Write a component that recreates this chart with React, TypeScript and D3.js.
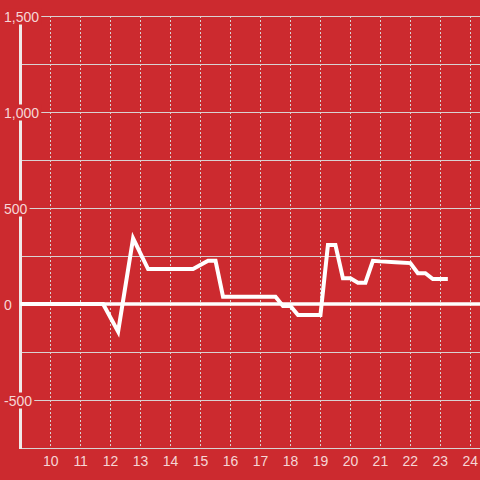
import React, { useEffect, useRef } from "react";
import * as d3 from "d3";

const hours = [9.0, 11.75, 12.25, 12.75, 13.25, 14.75, 15.25, 15.5, 15.75, 17.5, 17.75, 18.0, 18.25, 19.0, 19.25, 19.5, 19.75, 20.0, 20.25, 20.5, 20.75, 21.0, 21.5, 22.0, 22.25, 22.5, 22.75, 23.25];
const values = [0, 0, -144, 342, 182, 182, 225, 225, 38, 38, -10, -10, -57, -57, 307, 307, 134, 134, 111, 111, 225, 222, 218, 213, 160, 160, 130, 130];
const xTicks = [10, 11, 12, 13, 14, 15, 16, 17, 18, 19, 20, 21, 22, 23, 24];
const yLabelTicks = [1500, 1000, 500, 0, -500];
const yLabels = ["1,500", "1,000", "500", "0", "-500"];
const yGridTicks = [1500, 1250, 1000, 750, 500, 250, 0, -250, -500];

const W = 480;
const H = 480;
const BG = "#cc2a2f";
const LABEL = "#f6d6d6";
const GRID = "#d9d2d2";

export default function App() {
  const ref = useRef<SVGSVGElement>(null);
  useEffect(() => {
    const svg = d3.select(ref.current);
    svg.selectAll("*").remove();
    const x = d3.scaleLinear().domain([9, 24.323]).range([20.7, 480]);
    const y = d3.scaleLinear().domain([-750, 1500]).range([448, 16]);
    const axisX = 20.5;
    const font = "'Liberation Sans', Arial, sans-serif";

    svg.append("rect").attr("width", W).attr("height", H).attr("fill", BG);

    // vertical dotted grid
    svg.append("g").selectAll("line").data(xTicks).join("line")
      .attr("x1", d => Math.floor(x(d)) + 0.5).attr("x2", d => Math.floor(x(d)) + 0.5)
      .attr("y1", y(1500)).attr("y2", y(-750))
      .attr("stroke", GRID).attr("stroke-width", 1).attr("stroke-dasharray", "2,2");

    // horizontal grid
    svg.append("g").selectAll("line").data(yGridTicks.filter(d => d !== 0)).join("line")
      .attr("x1", axisX).attr("x2", W)
      .attr("y1", d => Math.round(y(d)) + 0.5).attr("y2", d => Math.round(y(d)) + 0.5)
      .attr("stroke", GRID).attr("stroke-width", 1);

    // bottom axis line
    svg.append("line").attr("x1", axisX).attr("x2", W)
      .attr("y1", y(-750) + 0.5).attr("y2", y(-750) + 0.5)
      .attr("stroke", GRID).attr("stroke-width", 1);

    // y axis
    svg.append("line").attr("x1", axisX).attr("x2", axisX)
      .attr("y1", y(1500)).attr("y2", y(-750) + 1)
      .attr("stroke", "#f0eaea").attr("stroke-width", 3);

    // zero line
    svg.append("line").attr("x1", axisX).attr("x2", W)
      .attr("y1", y(0)).attr("y2", y(0))
      .attr("stroke", "#ffffff").attr("stroke-width", 3.5);

    // data line
    const pts = hours.map((h, i) => [h, values[i]] as [number, number]);
    const line = d3.line<[number, number]>().x(d => x(d[0])).y(d => y(d[1]));
    svg.append("path").attr("d", line(pts) as string)
      .attr("fill", "none").attr("stroke", "#ffffff").attr("stroke-width", 4)
      .attr("stroke-linejoin", "miter");

    // y labels with background
    const yl = svg.append("g");
    yLabelTicks.forEach((v, i) => {
      const g = yl.append("g");
      const bg = g.append("rect").attr("fill", BG);
      const t = g.append("text")
        .attr("x", 4).attr("y", y(v) + 5.5)
        .attr("fill", LABEL).attr("font-family", font).attr("font-size", 14)
        .text(yLabels[i]);
      const bb = (t.node() as SVGTextElement).getBBox();
      bg.attr("x", bb.x - 1).attr("y", bb.y).attr("width", bb.width + 3).attr("height", bb.height);
    });

    // x labels
    svg.append("g").selectAll("text").data(xTicks).join("text")
      .attr("x", d => x(d)).attr("y", 465.5)
      .attr("text-anchor", "middle")
      .attr("fill", LABEL).attr("font-family", font).attr("font-size", 14)
      .text(d => String(d));
  }, []);
  return (
    <svg ref={ref} width={W} height={H} style={{ position: "absolute", left: 0, top: 0, display: "block" }} />
  );
}
